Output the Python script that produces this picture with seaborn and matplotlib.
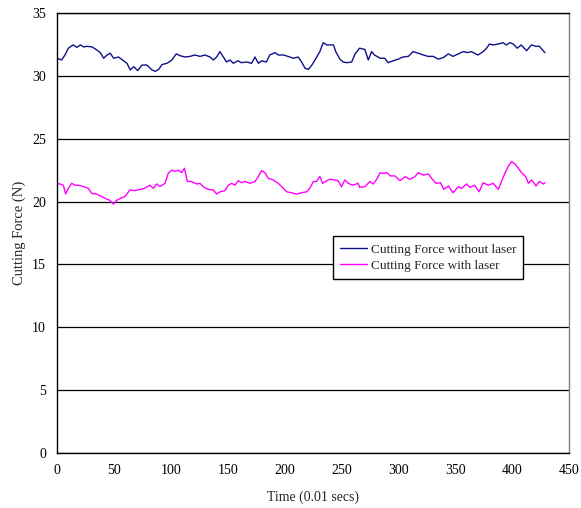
import numpy as np
import pandas as pd
import matplotlib
matplotlib.use("Agg")
import matplotlib.pyplot as plt
import seaborn as sns

# Cutting force without laser
t_without = [0, 4, 7, 10, 14, 17.5, 20.5, 23.5, 26.4, 30.8, 35, 38, 41, 44, 46.8, 49.8, 54, 57,
             61.5, 64.4, 67.4, 70.9, 74.7, 79, 83.5, 86.4, 89.4, 92.3, 96.7, 101, 104.8, 108.3,
             112.5, 117, 121, 125.7, 130, 134.5, 137.4, 140.3, 143.2, 146.2, 149, 152, 155, 159,
             162, 166.7, 171, 174, 177, 180, 184, 187, 191.6, 194.5, 199, 203, 207.7, 212, 215,
             218, 221, 224, 227, 231, 234, 237, 240, 243, 245, 248.6, 251.6, 254.6, 259, 262,
             266, 270.6, 273.6, 276.5, 279, 284, 288, 291, 295.5, 300, 304, 308.8, 313, 317.5,
             322, 326, 330.7, 335, 339.5, 344, 348, 352.7, 357, 361, 364, 370, 374.6, 377.6,
             380, 383.4, 387.8, 392, 395, 398, 401, 404.5, 408, 412.7, 417, 421, 424, 428.8]
f_without = [31.4, 31.26, 31.66, 32.2, 32.46, 32.27, 32.46, 32.3, 32.35, 32.3, 32.06, 31.85, 31.4,
             31.66, 31.8, 31.4, 31.5, 31.3, 31.0, 30.47, 30.73, 30.42, 30.86, 30.86, 30.47, 30.36,
             30.52, 30.9, 31.0, 31.26, 31.75, 31.6, 31.5, 31.55, 31.66, 31.55, 31.66, 31.5, 31.26,
             31.5, 31.93, 31.5, 31.1, 31.26, 31.0, 31.2, 31.05, 31.1, 31.0, 31.5, 31.0, 31.2, 31.1,
             31.66, 31.85, 31.66, 31.66, 31.55, 31.4, 31.5, 31.1, 30.6, 30.52, 30.86, 31.3, 31.93,
             32.64, 32.46, 32.46, 32.46, 31.93, 31.33, 31.1, 31.05, 31.1, 31.75, 32.2, 32.1, 31.26,
             31.93, 31.66, 31.4, 31.4, 31.05, 31.2, 31.33, 31.5, 31.55, 31.93, 31.8, 31.66, 31.55,
             31.55, 31.33, 31.45, 31.75, 31.55, 31.75, 31.93, 31.85, 31.93, 31.66, 31.93, 32.2,
             32.53, 32.46, 32.53, 32.64, 32.46, 32.64, 32.53, 32.2, 32.46, 32.0, 32.46, 32.35,
             32.35, 31.85]

# Cutting force with laser
t_with = [0, 2.6, 5.6, 7.6, 10, 12.9, 15.8, 18.7, 23, 27.5, 30.5, 34.8, 39.2, 43.6, 46.6, 49.5,
          52.4, 56, 59.7, 64, 68.5, 73, 77, 81.7, 84.6, 87.6, 90.5, 95, 97.8, 100.8, 103.7,
          106.6, 109.5, 112, 114.5, 118, 122.7, 125.7, 129.2, 133, 137.4, 140.3, 143.2, 147.6,
          150.6, 153.5, 156.4, 159.3, 162.3, 165, 169.6, 174, 177, 179.8, 182.8, 185.7, 190,
          194.5, 199, 201.8, 206, 210.6, 215, 219.4, 222.5, 225.3, 228.2, 231, 233.5, 237, 240,
          244, 247, 250, 253, 256, 260, 264.6, 266, 270.6, 275, 278, 281, 284, 287, 290, 293,
          297, 301.5, 306, 310, 314.5, 317.5, 322, 326.4, 329.3, 333, 337, 340, 344, 348, 352.7,
          355.6, 360, 363, 367, 371, 374.6, 379, 383.4, 387.8, 390.7, 393.6, 396.5, 399.5, 402.5,
          405.4, 408.3, 412, 414.3, 417.2, 421, 424, 427.5, 429]
f_with = [21.45, 21.4, 21.3, 20.6, 21.05, 21.45, 21.3, 21.3, 21.2, 21.05, 20.65, 20.6, 20.4, 20.2,
          20.1, 19.8, 20.1, 20.27, 20.4, 20.92, 20.87, 20.97, 21.05, 21.3, 21.05, 21.4, 21.2,
          21.45, 22.25, 22.5, 22.4, 22.5, 22.3, 22.65, 21.6, 21.6, 21.4, 21.45, 21.13, 20.97,
          20.92, 20.6, 20.78, 20.87, 21.3, 21.45, 21.3, 21.66, 21.5, 21.6, 21.45, 21.6, 22.0,
          22.46, 22.3, 21.85, 21.72, 21.45, 21.05, 20.78, 20.7, 20.6, 20.7, 20.78, 21.1, 21.6,
          21.6, 22.0, 21.45, 21.66, 21.77, 21.72, 21.66, 21.18, 21.72, 21.45, 21.3, 21.45, 21.13,
          21.18, 21.6, 21.4, 21.77, 22.3, 22.25, 22.3, 22.04, 22.04, 21.66, 21.98, 21.77, 21.98,
          22.3, 22.1, 22.2, 21.85, 21.45, 21.5, 20.97, 21.24, 20.7, 21.18, 21.05, 21.4, 21.13,
          21.3, 20.78, 21.5, 21.3, 21.45, 20.97, 21.6, 22.25, 22.78, 23.18, 23.0, 22.65, 22.3,
          21.98, 21.45, 21.72, 21.24, 21.6, 21.4, 21.5]

series_names = ["Cutting Force without laser", "Cutting Force with laser"]
x_ticks = [0, 50, 100, 150, 200, 250, 300, 350, 400, 450]
y_ticks = [0, 5, 10, 15, 20, 25, 30, 35]

df = pd.concat([
    pd.DataFrame({"Time": t_without, "Force": f_without, "Series": series_names[0]}),
    pd.DataFrame({"Time": t_with, "Force": f_with, "Series": series_names[1]}),
])

sns.set_theme(style="white")
plt.rcParams["font.family"] = ["Liberation Serif", "DejaVu Serif"]

fig = plt.figure(figsize=(5.81, 5.08), dpi=100)
ax = fig.add_axes([57 / 581, 1 - 453 / 508, 512 / 581, 440 / 508])

sns.lineplot(data=df, x="Time", y="Force", hue="Series", sort=False,
             palette={series_names[0]: "#10108a", series_names[1]: "#FF00FF"},
             linewidth=1.0, ax=ax, estimator=None)

ax.set_xlim(0, 450)
ax.set_ylim(0, 35)
ax.set_xticks(x_ticks)
ax.set_yticks(y_ticks)
ax.tick_params(axis="both", labelsize=10, colors="black", length=3, width=0.8)
ax.tick_params(axis="x", direction="in", pad=8)
ax.tick_params(axis="y", direction="out", pad=5)
ax.yaxis.grid(True, color="black", linewidth=0.9)
ax.set_axisbelow(True)
for s in ["left", "bottom", "top"]:
    ax.spines[s].set_color("black")
    ax.spines[s].set_linewidth(1.0)
ax.spines["right"].set_color("#808080")
ax.spines["right"].set_linewidth(1.0)

ax.set_xlabel("Time (0.01 secs)", fontsize=10, labelpad=10)
ax.set_ylabel("Cutting Force (N)", fontsize=10.5, labelpad=4)

leg = ax.legend(loc="lower left", bbox_to_anchor=(0.539, 0.395), fontsize=9.5,
                frameon=True, fancybox=False, handlelength=2.0, handletextpad=0.3,
                borderpad=0.55, labelspacing=0.3, borderaxespad=0)
leg.get_frame().set_edgecolor("black")
leg.get_frame().set_linewidth(1.0)
leg.get_frame().set_alpha(1)

fig.savefig("out.png", dpi=100)
